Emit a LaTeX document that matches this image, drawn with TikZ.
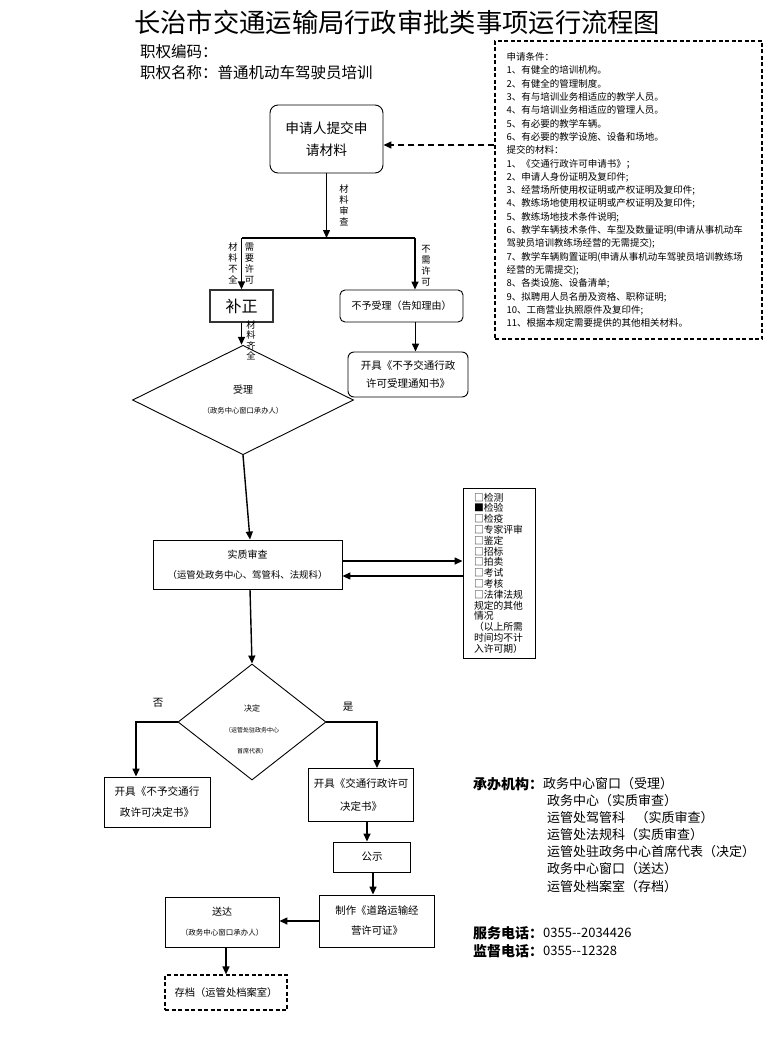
\documentclass[tikz,border=0pt]{standalone}
\usepackage{fontspec}
\setmainfont{Noto Sans CJK SC}
\usetikzlibrary{arrows.meta,shapes.geometric,calc}
\newcommand\fz[2]{\fontsize{#1}{#2}\selectfont}
\begin{document}
\begin{tikzpicture}[x=1pt,y=-1pt,
  box/.style={draw,line width=0.9pt,inner sep=0pt,align=center},
  rbox/.style={box,rounded corners=6pt},
  dbox/.style={box,line width=1.2pt,dash pattern=on 4pt off 2.5pt},
  flow/.style={line width=1.4pt,-{Triangle[length=8pt,width=7pt]}},
  seg/.style={line width=1.4pt},
  lab/.style={inner sep=0pt,align=center,font=\fz{9.3}{11}},
  txt/.style={inner sep=0pt,anchor=west}
]
\fill[white] (0,0) rectangle (768,1062);
\useasboundingbox (0,0) rectangle (768,1062);

% header
\node[txt,font=\fz{26.3}{30}] (title) at (134,22) {长治市交通运输局行政审批类事项运行流程图};
\node[txt,font=\fz{15.5}{18}] (code) at (140,52) {职权编码：};
\node[txt,font=\fz{15.5}{18}] (name) at (140,73) {职权名称：普通机动车驾驶员培训};

% conditions box
\node[dbox,minimum width=267,minimum height=298,text width=244,align=left,font=\fz{9.5}{13.3}] (cond) at (628.5,190) {申请条件：\\
1、有健全的培训机构。\\
2、有健全的管理制度。\\
3、有与培训业务相适应的教学人员。\\
4、有与培训业务相适应的管理人员。\\
5、有必要的教学车辆。\\
6、有必要的教学设施、设备和场地。\\
提交的材料：\\
1、《交通行政许可申请书》；\\
2、申请人身份证明及复印件;\\
3、经营场所使用权证明或产权证明及复印件;\\
4、教练场地使用权证明或产权证明及复印件;\\
5、教练场地技术条件说明;\\
6、教学车辆技术条件、车型及数量证明(申请从事机动车\\
驾驶员培训教练场经营的无需提交);\\
7、教学车辆购置证明(申请从事机动车驾驶员培训教练场\\
经营的无需提交);\\
8、各类设施、设备清单;\\
9、拟聘用人员名册及资格、职称证明;\\
10、工商营业执照原件及复印件;\\
11、根据本规定需要提供的其他相关材料。};

% flow nodes
\node[rbox,rounded corners=8pt,minimum width=113,minimum height=68,font=\fz{13.7}{22}] (apply) at (326.5,139) {申请人提交申\\请材料};
\coordinate (jn) at (326.5,238);
\coordinate (jl) at (241.5,238);
\coordinate (jr) at (415,238);

\node[box,line width=1.3pt,draw=black!80,minimum width=63,minimum height=32,font=\fz{16}{18}] (bz) at (241.5,306) {补正};
\node[rbox,rounded corners=5pt,minimum width=123,minimum height=32,font=\fz{10}{12}] (by) at (401.5,306) {不予受理（告知理由）};
\node[rbox,minimum width=120,minimum height=45,font=\fz{10.5}{18}] (byn) at (408,374.5) {开具《不予交通行政\\许可受理通知书》};

\node[diamond,draw,line width=0.9pt,minimum width=221,minimum height=80,inner sep=0pt,align=center,font=\fz{7.3}{20}] (d1) at (243,400) {{\fz{10}{20}受理}\\（政务中心窗口承办人）};

\node[box,minimum width=189,minimum height=49,font=\fz{9.4}{20}] (sz) at (247.5,564.5) {{\fz{10}{20}实质审查}\\（运管处政务中心、驾管科、法规科）};

\node[box,minimum width=72,minimum height=170,text width=50,align=left,font=\fz{9.8}{10.8}] (list) at (499,573) {□检测\\■检验\\□检疫\\□专家评审\\□鉴定\\□招标\\□拍卖\\□考试\\□考核\\□法律法规\\规定的其他\\情况\\（以上所需\\时间均不计\\入许可期）};

\node[diamond,draw,line width=0.9pt,minimum width=148,minimum height=116,inner sep=0pt] (d2) at (252,722) {};
\node[inner sep=0pt,align=center,font=\fz{6}{21}] (d2t) at (252,729) {{\fz{8}{21}决定}\\（运管处驻政务中心\\首席代表）};
\node[inner sep=0pt,font=\fz{10.5}{12}] (no) at (158,703) {否};
\node[inner sep=0pt,font=\fz{10.5}{12}] (yes) at (348,707) {是};

\node[box,minimum width=106,minimum height=50,font=\fz{10.6}{21}] (nb) at (157,802) {开具《不予交通行\\政许可决定书》};
\node[box,minimum width=105,minimum height=53,font=\fz{10.5}{23}] (yb) at (361,795) {开具《交通行政许可\\决定书》};
\node[box,minimum width=77,minimum height=30,font=\fz{10.5}{12}] (gs) at (372,857) {公示};
\node[box,minimum width=115,minimum height=52,font=\fz{10.4}{20}] (zz) at (377,921) {制作《道路运输经\\营许可证》};
\node[box,minimum width=114,minimum height=50,font=\fz{7.5}{20}] (sd) at (222,922) {{\fz{10}{20}送达}\\（政务中心窗口承办人）};
\node[dbox,minimum width=122,minimum height=35,font=\fz{10.3}{12}] (cd) at (226,992.5) {存档（运管处档案室）};

% connectors
\coordinate (dshA) at ([yshift=-6pt]apply.east);
\draw[line width=1.4pt,dash pattern=on 6pt off 4pt,-{Triangle[length=8pt,width=7pt]}] (dshA -| cond.west) -- (dshA);
\draw[flow] (apply.south) -- (jn);
\draw[seg] (jl) -- (jr);
\draw[flow] (jl) -- (bz.north);
\draw[flow] (jr) -- (jr |- by.north);
\draw[flow] (bz.south) -- (bz.south |- d1.north);
\draw[flow] ([xshift=14pt]by.south) -- ([xshift=14pt]by.south |- byn.north);
\draw[flow] (d1.south) -- ([xshift=2.5pt]sz.north);
\draw[flow] ([yshift=3.5pt]sz.east) -- ([yshift=3.5pt]sz.east -| list.west);
\draw[flow] ([yshift=-11.5pt]sz.east -| list.west) -- ([yshift=-11.5pt]sz.east);
\draw[flow] ([xshift=2.5pt]sz.south) -- (d2.north);
\draw[flow] (d2.west) -| ([xshift=-21pt]nb.north);
\draw[flow] (d2.east) -| ([xshift=16pt]yb.north);
\draw[flow] ([xshift=-5pt]gs.north |- yb.south) -- ([xshift=-5pt]gs.north);
\draw[flow] ([xshift=1pt]gs.south) -- ([xshift=1pt]gs.south |- zz.north);
\draw[flow] (zz.west) -- (zz.west -| sd.east);
\draw[flow] (cd.north |- sd.south) -- (cd.north);

% branch labels
\node[lab] (l1) at (344,205.5) {材\\料\\审\\查};
\node[lab] (l2) at (233,263.5) {材\\料\\不\\全};
\node[lab] (l3) at (249.5,263.5) {需\\要\\许\\可};
\node[lab] (l4) at (426,266) {不\\需\\许\\可};
\node[lab,font=\fz{9.3}{10.5}] (l5) at (251,340.5) {材\\料\\齐\\全};

% right info block
\node[txt,font=\fz{14}{16}\bfseries] (org) at (473,784) {承办机构：};
\node[txt,font=\fz{13}{16}] (o1) at (543,784) {政务中心窗口（受理）};
\node[txt,font=\fz{13}{16}] (o2) at (547,801) {政务中心（实质审查）};
\node[txt,font=\fz{13}{16}] (o3) at (547,818) {运管处驾管科\hspace{0.8em}（实质审查）};
\node[txt,font=\fz{13}{16}] (o4) at (547,835) {运管处法规科（实质审查）};
\node[txt,font=\fz{13}{16}] (o5) at (547,852) {运管处驻政务中心首席代表（决定）};
\node[txt,font=\fz{13}{16}] (o6) at (547,869) {政务中心窗口（送达）};
\node[txt,font=\fz{13}{16}] (o7) at (547,887) {运管处档案室（存档）};
\node[txt,font=\fz{14}{16}\bfseries] (svc) at (473,933) {服务电话：};
\node[txt,font=\fz{13}{16}] (svcn) at (543,933) {0355-{}-2034426};
\node[txt,font=\fz{14}{16}\bfseries] (sup) at (473,951) {监督电话：};
\node[txt,font=\fz{13}{16}] (supn) at (543,951) {0355-{}-12328};
\end{tikzpicture}
\end{document}
